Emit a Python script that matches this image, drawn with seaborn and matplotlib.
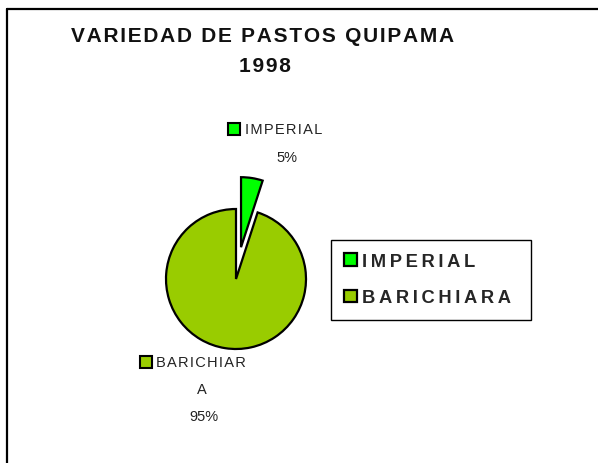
import matplotlib
matplotlib.use("Agg")
import matplotlib.pyplot as plt
import seaborn as sns
from matplotlib.patches import Rectangle
from matplotlib.lines import Line2D

# Data
categories = ["IMPERIAL", "BARICHIARA"]
values = [5, 95]
explode = [0.46, 0.0]
colors = ["#00FF00", "#99CC00"]
title_lines = ["VARIEDAD DE PASTOS QUIPAMA", "1998"]

W, H = 598, 464
FONT = ["Liberation Sans", "DejaVu Sans"]


def fx(x):
    return x / W


def fy(y):
    return 1 - y / H


def spaced(s, gap="\u200a"):
    # emulate the wide letter spacing of the original
    return gap.join(s)


sns.set_theme(style="white")
plt.rcParams["font.family"] = FONT

fig = plt.figure(figsize=(W / 100, H / 100), dpi=100)
fig.patch.set_facecolor("white")

# pie axes: center (236, 280) px, radius 70 px
side = 320
cx, cy, r = 236, 280, 70
ax = fig.add_axes([fx(cx - side / 2), fy(cy + side / 2), side / W, side / H])
wedges, _ = ax.pie(
    values,
    explode=explode,
    colors=colors,
    startangle=90,
    counterclock=False,
    wedgeprops=dict(edgecolor="black", linewidth=1.6),
)
lim = side / 2 / r
ax.set_xlim(-lim, lim)
ax.set_ylim(-lim, lim)
ax.axis("off")

# chart border (left and top edges visible)
fig.add_artist(Line2D([fx(7), fx(7)], [fy(10), fy(H + 5)], color="black", lw=1.6,
                      transform=fig.transFigure))
fig.add_artist(Line2D([fx(7), fx(W + 5)], [fy(10), fy(10)], color="black", lw=1.6,
                      transform=fig.transFigure))

# title
fig.text(fx(263), fy(37), spaced(title_lines[0]), ha="center", va="center",
         fontsize=15, fontweight="bold", color="#111111")
fig.text(fx(265), fy(67), spaced(title_lines[1]), ha="center", va="center",
         fontsize=15, fontweight="bold", color="#111111")

total = sum(values)
pcts = [f"{v / total * 100:.0f}%" for v in values]


def square(x, y, color):
    fig.add_artist(Rectangle((fx(x), fy(y + 12)), 12 / W, 12 / H, facecolor=color,
                             edgecolor="black", lw=1.5, transform=fig.transFigure))


# data labels
square(228, 124, colors[0])
fig.text(fx(245), fy(130), spaced(categories[0]), ha="left", va="center",
         fontsize=10.5, color="#222222")
fig.text(fx(287), fy(158), pcts[0], ha="center", va="center",
         fontsize=10.5, color="#222222")

square(140, 357, colors[1])
fig.text(fx(156), fy(363), spaced(categories[1][:9]), ha="left", va="center",
         fontsize=10.5, color="#222222")
fig.text(fx(202), fy(390), categories[1][9:], ha="center", va="center",
         fontsize=10.5, color="#222222")
fig.text(fx(204), fy(417), pcts[1], ha="center", va="center",
         fontsize=10.5, color="#222222")

# legend
leg = fig.legend(
    wedges,
    [spaced(c, "\u2009") + "\u2009\u2009" for c in categories],
    loc="upper left",
    bbox_to_anchor=(fx(331), fy(241)),
    frameon=True,
    fancybox=False,
    shadow=False,
    prop=dict(family=FONT, weight="bold", size=13.2),
    handlelength=0.7,
    handleheight=0.7,
    handletextpad=0.25,
    labelspacing=1.05,
    borderpad=0.72,
    borderaxespad=0,
)
leg.get_frame().set_edgecolor("black")
leg.get_frame().set_linewidth(1.0)
leg.get_frame().set_alpha(1)

fig.savefig("out.png", dpi=100, facecolor="white")
